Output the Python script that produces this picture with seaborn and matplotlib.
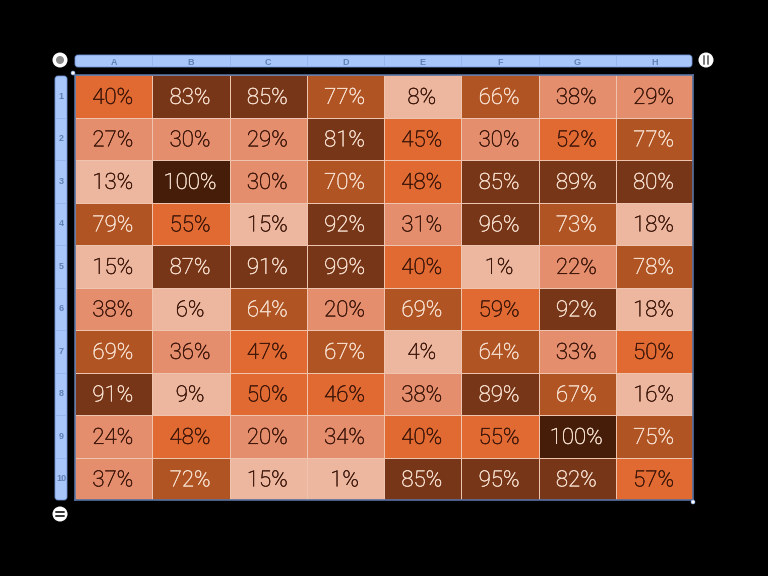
import numpy as np
from matplotlib import pyplot as plt
from matplotlib.colors import BoundaryNorm, ListedColormap
import matplotlib.patches as patches
import matplotlib.patheffects as path_effects
import seaborn as sns

column_labels = ['A', 'B', 'C', 'D', 'E', 'F', 'G', 'H']
row_labels = ['1', '2', '3', '4', '5', '6', '7', '8', '9', '10']

row_1 = [40, 83, 85, 77, 8, 66, 38, 29]
row_2 = [27, 30, 29, 81, 45, 30, 52, 77]
row_3 = [13, 100, 30, 70, 48, 85, 89, 80]
row_4 = [79, 55, 15, 92, 31, 96, 73, 18]
row_5 = [15, 87, 91, 99, 40, 1, 22, 78]
row_6 = [38, 6, 64, 20, 69, 59, 92, 18]
row_7 = [69, 36, 47, 67, 4, 64, 33, 50]
row_8 = [91, 9, 50, 46, 38, 89, 67, 16]
row_9 = [24, 48, 20, 34, 40, 55, 100, 75]
row_10 = [37, 72, 15, 1, 85, 95, 82, 57]

values = np.array([row_1, row_2, row_3, row_4, row_5,
                   row_6, row_7, row_8, row_9, row_10])

# Colour buckets of the table
bucket_edges = [0, 20, 40, 60, 80, 100, 101]
bucket_colors = ['#EDB79F', '#E58E6D', '#E06A32', '#B05424', '#783618', '#451D08']

W, H = 768, 576
LEFT, RIGHT, TOP, BOTTOM = 75, 693, 75, 500
BAR_BLUE = '#A8C6FA'
BAR_EDGE = '#6E93D6'
LABEL_BLUE = '#5F80B5'

plt.rcParams['font.family'] = ['Liberation Sans', 'DejaVu Sans']

fig = plt.figure(figsize=(W / 100, H / 100), dpi=100, facecolor='black')

# Background layer in pixel coordinates for the bars and buttons
bg = fig.add_axes([0, 0, 1, 1], zorder=0)
bg.set_xlim(0, W)
bg.set_ylim(H, 0)
bg.axis('off')

bg.add_patch(patches.FancyBboxPatch((75, 55), 617, 12, boxstyle='round,pad=0,rounding_size=3',
                                    facecolor=BAR_BLUE, edgecolor=BAR_EDGE, linewidth=0.6))
bg.add_patch(patches.FancyBboxPatch((55, 76), 12, 424, boxstyle='round,pad=0,rounding_size=3',
                                    facecolor=BAR_BLUE, edgecolor=BAR_EDGE, linewidth=0.6))
for i in range(1, len(column_labels)):
    x = LEFT + i * (RIGHT - LEFT) / len(column_labels)
    bg.plot([x, x], [56, 66], color='#94B4EC', linewidth=0.6)
for i in range(1, len(row_labels)):
    y = TOP + i * (BOTTOM - TOP) / len(row_labels)
    bg.plot([56, 66], [y, y], color='#94B4EC', linewidth=0.6)

# Round buttons
for cx, cy in [(60, 60), (706, 60), (60, 514)]:
    bg.add_patch(patches.Circle((cx, cy), 7.5, facecolor='white', edgecolor='none'))
bg.add_patch(patches.Circle((60, 60), 4, facecolor='#8A8A8A', edgecolor='none'))
for dx in [-1.8, 1.8]:
    bg.plot([706 + dx, 706 + dx], [56, 64], color='#777777', linewidth=1.4, solid_capstyle='round')
for dy in [-1.6, 1.6]:
    bg.plot([56, 64], [514 + dy, 514 + dy], color='#333333', linewidth=1.4, solid_capstyle='round')

# Table
ax = fig.add_axes([LEFT / W, 1 - BOTTOM / H, (RIGHT - LEFT) / W, (BOTTOM - TOP) / H], zorder=1)
annot = np.array([[f'{v}%' for v in row] for row in values])
sns.heatmap(values, ax=ax, cmap=ListedColormap(bucket_colors),
            norm=BoundaryNorm(bucket_edges, len(bucket_colors)), cbar=False,
            annot=annot, fmt='', annot_kws={'fontsize': 16, 'family': 'Roboto', 'weight': 'light'},
            linewidths=0.45, linecolor='#EFC4AE',
            xticklabels=column_labels, yticklabels=row_labels)

# Dark text on the light buckets, light text on the dark ones, nudged down a touch
for text, v in zip(ax.texts, values.flatten()):
    color = '#F8E2D2' if v >= 60 else '#3A1408'
    text.set_color(color)
    text.set_x(text.get_position()[0] - 0.01)
    text.set_y(text.get_position()[1] + 0.05)
    # Light face comes out too thin at this size, thicken it slightly
    text.set_path_effects([path_effects.withStroke(linewidth=0.3, foreground=color)])

ax.xaxis.tick_top()
ax.tick_params(axis='x', length=0, pad=6, labelsize=6.5, labelcolor=LABEL_BLUE, rotation=0)
ax.tick_params(axis='y', length=0, pad=10, labelsize=6.5, labelcolor=LABEL_BLUE, rotation=0)
for label in ax.get_xticklabels() + ax.get_yticklabels():
    label.set_fontweight('bold')
    label.set_horizontalalignment('center')

for spine in ax.spines.values():
    spine.set_visible(True)
    spine.set_color('#56709F')
    spine.set_linewidth(1.2)

# Selection handles, on top of the table corners
top = fig.add_axes([0, 0, 1, 1], zorder=2)
top.set_xlim(0, W)
top.set_ylim(H, 0)
top.axis('off')
top.patch.set_alpha(0)
for cx, cy in [(73, 73), (693, 502)]:
    top.add_patch(patches.Circle((cx, cy), 2, facecolor='white', edgecolor='#6E93D6', linewidth=0.4))

fig.savefig('out.png', dpi=100, facecolor='black')
